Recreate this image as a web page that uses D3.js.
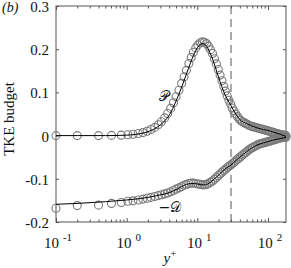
<!DOCTYPE html>
<html>
<head>
<meta charset="utf-8">
<script src="https://cdn.jsdelivr.net/npm/d3@7"></script>
<style>
  body { margin: 0; background: #fff; }
  text { font-family: "Liberation Serif", "Times New Roman", serif; fill: #111; }
</style>
</head>
<body>
<script>
const W = 291, H = 268;

// DNS points (circles), shared y+ grid
const yPlusDns = [0.1, 0.2, 0.4, 0.61, 0.84, 1.04, 1.23, 1.46, 1.7, 1.95, 2.2, 2.5, 2.8, 3.1, 3.45, 3.8, 4.2, 4.6, 5.0, 5.5,
  6.0, 6.5, 7.0, 7.6, 8.2, 8.8, 9.5, 10.2, 11.0, 11.8, 12.6, 13.5, 14.4, 15.4, 16.4, 17.5, 18.6, 19.8, 21.0, 22.3,
  23.7, 25.0, 26.5, 28.0, 29.6, 31.2, 33.0, 35.0, 37.0, 39.0, 41.0, 43.5, 46.0, 48.5, 51.0, 54, 57, 60, 63, 66.5,
  70, 74, 78, 82, 86, 90.5, 95, 100, 105, 110, 115, 121, 127, 133, 139, 145, 152, 159, 166, 173, 180];
const prodDns = [0, 0, 0, 0.0005, 0.001, 0.002, 0.003, 0.005, 0.007, 0.010, 0.014, 0.019, 0.025, 0.032, 0.041, 0.051, 0.063, 0.076, 0.090, 0.105,
  0.121, 0.136, 0.151, 0.167, 0.181, 0.193, 0.203, 0.210, 0.215, 0.217, 0.216, 0.213, 0.207, 0.199, 0.190, 0.178, 0.166, 0.153, 0.140, 0.127,
  0.114, 0.103, 0.092, 0.082, 0.073, 0.064, 0.057, 0.050, 0.044, 0.039, 0.035, 0.032, 0.030, 0.028, 0.026, 0.024, 0.022, 0.021, 0.020, 0.019,
  0.018, 0.017, 0.016, 0.015, 0.014, 0.013, 0.012, 0.011, 0.010, 0.009, 0.008, 0.007, 0.006, 0.005, 0.004, 0.003, 0.002, 0.0015, 0.001, 0.0005, 0];
const dissDns = [-0.168, -0.162, -0.161, -0.157, -0.155, -0.152, -0.151, -0.149, -0.147, -0.145, -0.143, -0.141, -0.139, -0.137, -0.135, -0.133, -0.130, -0.127, -0.124, -0.121,
  -0.118, -0.115, -0.113, -0.111, -0.110, -0.110, -0.111, -0.112, -0.113, -0.114, -0.114, -0.113, -0.111, -0.108, -0.105, -0.101, -0.097, -0.093, -0.089, -0.085,
  -0.081, -0.078, -0.074, -0.071, -0.068, -0.065, -0.062, -0.058, -0.055, -0.052, -0.049, -0.045, -0.042, -0.039, -0.036, -0.033, -0.030, -0.028, -0.026, -0.024,
  -0.022, -0.020, -0.019, -0.018, -0.017, -0.016, -0.015, -0.014, -0.013, -0.012, -0.011, -0.010, -0.009, -0.008, -0.007, -0.006, -0.005, -0.005, -0.004, -0.004, -0.004];

// model curves (solid lines)
const yPlusModel = [0.1, 0.2, 0.5, 1, 1.5, 2, 2.5, 3, 3.5, 4, 5, 6, 7, 8, 9, 10, 11, 12, 13, 14,
  15, 17, 19, 21, 24, 27, 30, 35, 40, 45, 50, 60, 70, 86, 100, 120, 150, 180];
const prodModel = [0, 0, 0, 0.001, 0.004, 0.009, 0.016, 0.025, 0.035, 0.047, 0.080, 0.112, 0.142, 0.168, 0.189, 0.203, 0.211, 0.213, 0.210, 0.203,
  0.193, 0.171, 0.146, 0.125, 0.099, 0.082, 0.069, 0.050, 0.037, 0.031, 0.028, 0.022, 0.018, 0.014, 0.012, 0.008, 0.003, -0.002];
const dissModel = [-0.159, -0.157, -0.153, -0.149, -0.146, -0.143, -0.140, -0.137, -0.135, -0.132, -0.125, -0.118, -0.113, -0.111, -0.111, -0.112, -0.113, -0.114, -0.114, -0.112,
  -0.109, -0.102, -0.095, -0.088, -0.079, -0.073, -0.068, -0.058, -0.050, -0.043, -0.037, -0.028, -0.022, -0.017, -0.014, -0.010, -0.007, -0.004];

const xMajor = [0.1, 1, 10, 100];
const xExponents = ['-1', '0', '1', '2'];
const yTicks = [-0.2, -0.1, 0, 0.1, 0.2, 0.3];
const yTickLabels = ['-0.2', '-0.1', '0', '0.1', '0.2', '0.3'];
const yPlusMark = 30; // dashed line

const mLeft = 56, mRight = 286, mTop = 6, mBottom = 222;

const svg = d3.select('body').append('svg').attr('width', W).attr('height', H);

const x = d3.scaleLog().domain([0.1, 180]).range([mLeft, mRight]);
const y = d3.scaleLinear().domain([-0.2, 0.3]).range([mBottom, mTop]);

const axisCol = '#555';
const minor = x.ticks().filter(v => !xMajor.includes(v));

function styleAxis(g) {
  g.select('.domain').remove();
  g.selectAll('line').attr('stroke', axisCol);
}

// bottom / top ticks (inward)
svg.append('g').attr('transform', `translate(0,${mBottom})`)
  .call(d3.axisBottom(x).tickValues(xMajor).tickSizeInner(-4).tickSizeOuter(0).tickFormat(''))
  .call(styleAxis);
svg.append('g').attr('transform', `translate(0,${mBottom})`)
  .call(d3.axisBottom(x).tickValues(minor).tickSizeInner(-2.5).tickSizeOuter(0).tickFormat(''))
  .call(styleAxis);
svg.append('g').attr('transform', `translate(0,${mTop})`)
  .call(d3.axisTop(x).tickValues(xMajor).tickSizeInner(-4).tickSizeOuter(0).tickFormat(''))
  .call(styleAxis);
svg.append('g').attr('transform', `translate(0,${mTop})`)
  .call(d3.axisTop(x).tickValues(minor).tickSizeInner(-2.5).tickSizeOuter(0).tickFormat(''))
  .call(styleAxis);

// left / right ticks
svg.append('g').attr('transform', `translate(${mLeft},0)`)
  .call(d3.axisLeft(y).tickValues(yTicks).tickSizeInner(-3).tickSizeOuter(0).tickPadding(7)
    .tickFormat((d, i) => yTickLabels[i]))
  .call(styleAxis)
  .call(g => g.selectAll('text').attr('font-size', 15).attr('fill', '#111').attr('dy', '0.36em')
    .style('font-family', '"Liberation Serif", serif'));
svg.append('g').attr('transform', `translate(${mRight},0)`)
  .call(d3.axisRight(y).tickValues(yTicks).tickSizeInner(-3).tickSizeOuter(0).tickFormat(''))
  .call(styleAxis);

// box
svg.append('rect').attr('x', mLeft).attr('y', mTop)
  .attr('width', mRight - mLeft).attr('height', mBottom - mTop)
  .attr('fill', 'none').attr('stroke', axisCol).attr('stroke-width', 1);

// x tick labels 10^n
const xl = svg.append('g').selectAll('text').data(xMajor).join('text')
  .attr('x', d => x(d) + 2).attr('y', 248)
  .attr('text-anchor', 'middle').attr('font-size', 15);
xl.append('tspan').text('10');
xl.append('tspan').attr('dx', 4).attr('dy', -7).attr('font-size', 11)
  .text((d, i) => xExponents[i]);

// dashed line at y+ = 30
svg.append('line')
  .attr('x1', x(yPlusMark)).attr('x2', x(yPlusMark))
  .attr('y1', mTop).attr('y2', mBottom)
  .attr('stroke', '#555').attr('stroke-width', 1).attr('stroke-dasharray', '8,5');

// circles
const circ = svg.append('g').attr('fill', 'none').attr('stroke', '#7a7a7a').attr('stroke-width', 1.1);
[prodDns, dissDns].forEach(vals => {
  circ.append('g').selectAll('circle').data(yPlusDns).join('circle')
    .attr('cx', d => x(d)).attr('cy', (d, i) => y(vals[i])).attr('r', 4);
});

// lines
const line = d3.line().x(d => x(d[0])).y(d => y(d[1])).curve(d3.curveMonotoneX);
[prodModel, dissModel].forEach(vals => {
  svg.append('path').datum(yPlusModel.map((d, i) => [d, vals[i]]))
    .attr('d', line).attr('fill', 'none').attr('stroke', '#000').attr('stroke-width', 1);
});

// labels
svg.append('text').attr('x', 2).attr('y', 12).attr('font-size', 14)
  .attr('font-style', 'italic').text('(b)');

svg.append('text').attr('transform', 'translate(14,119) rotate(-90)')
  .attr('text-anchor', 'middle').attr('font-size', 15).text('TKE budget');

const xt = svg.append('text').attr('x', 170).attr('y', 263).attr('text-anchor', 'middle').attr('font-size', 15);
xt.append('tspan').attr('font-style', 'italic').text('y');
xt.append('tspan').attr('dy', -6).attr('font-size', 11).text('+');

svg.append('text').attr('x', 164).attr('y', 101).attr('text-anchor', 'middle')
  .attr('font-size', 14).style('font-family', '"DejaVu Serif", "DejaVu Sans", serif')
  .text('𝒫');
svg.append('text').attr('x', 170).attr('y', 212).attr('text-anchor', 'middle')
  .attr('font-size', 14).style('font-family', '"DejaVu Serif", "DejaVu Sans", serif')
  .text('−𝒟');
</script>
</body>
</html>
